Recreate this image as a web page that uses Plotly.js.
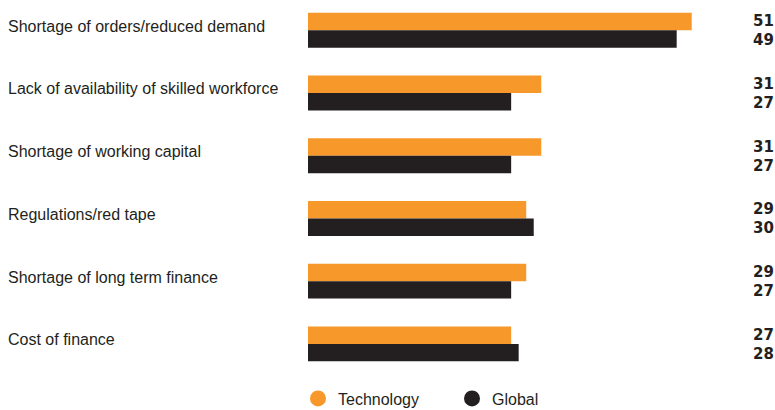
<!DOCTYPE html>
<html>
<head>
<meta charset="utf-8">
<script src="https://cdn.plot.ly/plotly-3.0.1.min.js"></script>
<style>
html,body{margin:0;padding:0;background:#fff;}
#chart{width:775px;height:410px;}
</style>
</head>
<body>
<div id="chart"></div>
<script>
var categories = [
  "Shortage of orders/reduced demand",
  "Lack of availability of skilled workforce",
  "Shortage of working capital",
  "Regulations/red tape",
  "Shortage of long term finance",
  "Cost of finance"
];
var technology = [51, 31, 31, 29, 29, 27];
var global = [49, 27, 27, 30, 27, 28];
var seriesNames = ["Technology", "Global"];

var ORANGE = "#F7982A";
var BLACK = "#231F20";
var labelFont = "'Liberation Sans', Arial, sans-serif";

var traces = [
  {type: "bar", orientation: "h", y: categories, x: technology, name: seriesNames[0],
   marker: {color: ORANGE}, showlegend: false, hoverinfo: "x"},
  {type: "bar", orientation: "h", y: categories, x: global, name: seriesNames[1],
   marker: {color: BLACK}, showlegend: false, hoverinfo: "x"},
  {type: "scatter", mode: "markers", x: [null], y: [null], name: seriesNames[0],
   marker: {color: ORANGE, size: 16, symbol: "circle"}},
  {type: "scatter", mode: "markers", x: [null], y: [null], name: seriesNames[1],
   marker: {color: BLACK, size: 16, symbol: "circle"}}
];

var annotations = [];
categories.forEach(function (c, i) {
  annotations.push({
    xref: "paper", yref: "y", x: -0.65, y: c, xanchor: "left", yanchor: "middle",
    yshift: 4, text: c, showarrow: false,
    font: {family: labelFont, size: 16, color: BLACK}
  });
  annotations.push({
    xref: "paper", yref: "y", x: 1, y: c, xanchor: "right", yanchor: "middle",
    yshift: 9, xshift: 3, text: "<b>" + technology[i] + "</b>", showarrow: false,
    font: {family: "'DejaVu Sans', sans-serif", size: 15, color: BLACK}
  });
  annotations.push({
    xref: "paper", yref: "y", x: 1, y: c, xanchor: "right", yanchor: "middle",
    yshift: -10, xshift: 3, text: "<b>" + global[i] + "</b>", showarrow: false,
    font: {family: "'DejaVu Sans', sans-serif", size: 15, color: BLACK}
  });
});

var layout = {
  width: 775, height: 410,
  margin: {l: 308, r: 2, t: 2, b: 28, pad: 0},
  paper_bgcolor: "#fff", plot_bgcolor: "#fff",
  barmode: "group", bargap: 0.443, bargroupgap: 0,
  xaxis: {range: [0, 61.8], visible: false, showgrid: false, zeroline: false, fixedrange: true},
  yaxis: {type: "category", range: [5.6, -0.45], showticklabels: false, showgrid: false,
          zeroline: false, showline: false, ticks: "", fixedrange: true},
  showlegend: true,
  legend: {orientation: "h", x: -0.0215, xanchor: "left", xref: "paper",
           yref: "container", y: 0.028, yanchor: "middle",
           font: {family: labelFont, size: 16, color: BLACK},
           entrywidth: 109, entrywidthmode: "pixels", itemclick: false, itemdoubleclick: false,
           bgcolor: "rgba(0,0,0,0)", borderwidth: 0},
  annotations: annotations
};

Plotly.newPlot("chart", traces, layout, {displayModeBar: false, staticPlot: true});
</script>
</body>
</html>
